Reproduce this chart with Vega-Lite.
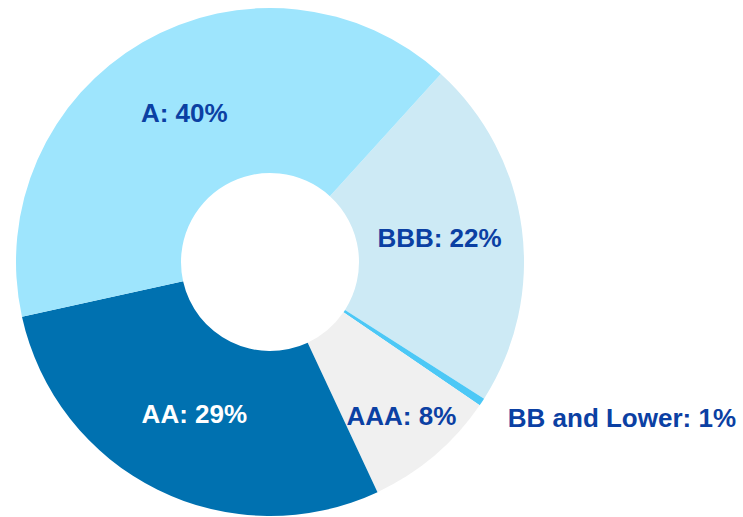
{
  "$schema": "https://vega.github.io/schema/vega-lite/v6.json",
  "width": 540,
  "height": 524,
  "autosize": {"type": "none"},
  "padding": {"left": 0, "top": 0, "right": 203, "bottom": 0},
  "background": "white",
  "config": {"view": {"stroke": null}},
  "data": {
    "values": [
      {"ord": 1, "label": "BBB", "disp": "BBB: 22%", "value": 22.3},
      {"ord": 2, "label": "BB and Lower", "disp": "BB and Lower: 1%", "value": 0.5},
      {"ord": 3, "label": "AAA", "disp": "AAA: 8%", "value": 8.5},
      {"ord": 4, "label": "AA", "disp": "AA: 29%", "value": 28.5},
      {"ord": 5, "label": "A", "disp": "A: 40%", "value": 40.2}
    ]
  },
  "encoding": {
    "theta": {"field": "value", "type": "quantitative", "stack": true, "scale": {"range": [0.738, 7.021]}},
    "order": {"field": "ord", "type": "quantitative"}
  },
  "layer": [
    {
      "mark": {"type": "arc", "outerRadius": 254, "innerRadius": 89},
      "encoding": {
        "color": {
          "field": "label",
          "type": "nominal",
          "scale": {
            "domain": ["BBB", "BB and Lower", "AAA", "AA", "A"],
            "range": ["#cdeaf5", "#4cc8f6", "#f0f0f0", "#0071b0", "#9ee5fd"]
          },
          "legend": null
        }
      }
    },
    {
      "mark": {"type": "text", "radius": 171, "font": "Liberation Sans", "fontSize": 26, "fontWeight": "bold", "align": "center", "baseline": "middle"},
      "encoding": {
        "detail": {"field": "label", "type": "nominal"},
        "text": {"condition": {"test": "indexof(['A','BBB','AA'], datum.label) >= 0", "field": "disp"}, "value": ""},
        "color": {"condition": {"test": "datum.label === 'AA'", "value": "#ffffff"}, "value": "#0b40a3"}
      }
    },
    {
      "mark": {"type": "text", "radius": 203, "font": "Liberation Sans", "fontSize": 26, "fontWeight": "bold", "align": "center", "baseline": "middle", "color": "#0b40a3"},
      "encoding": {
        "detail": {"field": "label", "type": "nominal"},
        "text": {"condition": {"test": "datum.label === 'AAA'", "field": "disp"}, "value": ""}
      }
    },
    {
      "mark": {"type": "text", "radius": 285, "font": "Liberation Sans", "fontSize": 26, "fontWeight": "bold", "align": "left", "baseline": "middle", "color": "#0b40a3"},
      "encoding": {
        "detail": {"field": "label", "type": "nominal"},
        "text": {"condition": {"test": "datum.label === 'BB and Lower'", "field": "disp"}, "value": ""}
      }
    }
  ]
}
